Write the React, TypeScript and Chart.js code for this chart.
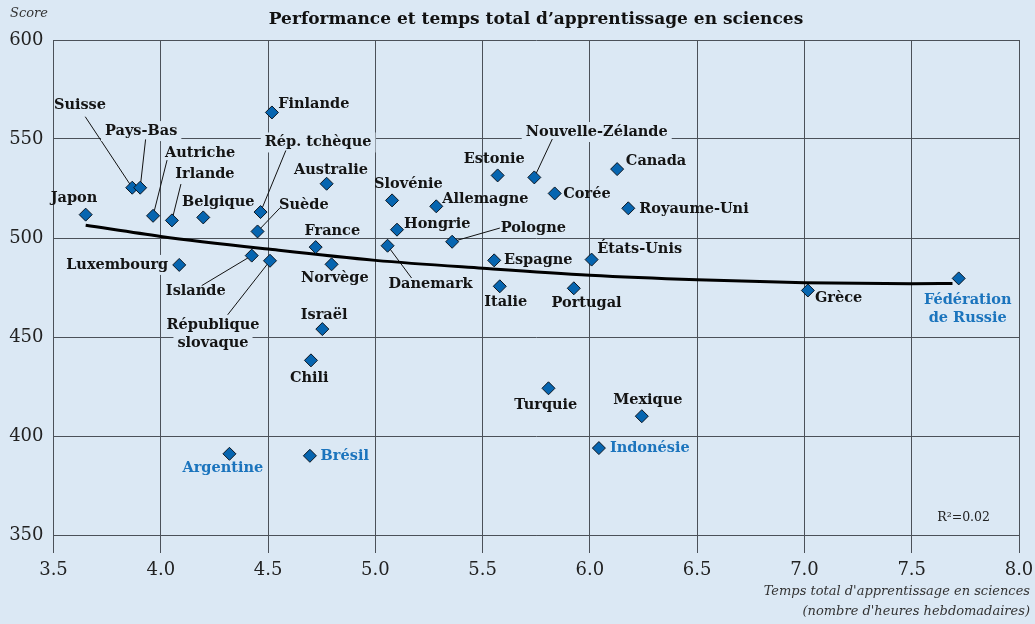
import React, { useEffect, useRef } from "react";
import { Chart, registerables } from "chart.js";

Chart.register(...registerables);

// ---------- data ----------
const countries = [
  "Japon", "Suisse", "Pays-Bas", "Autriche", "Irlande", "Belgique", "Luxembourg",
  "Islande", "République slovaque", "Suède", "Rép. tchèque", "Finlande", "Australie",
  "France", "Norvège", "Israël", "Chili", "Argentine", "Brésil", "Slovénie",
  "Allemagne", "Hongrie", "Danemark", "Pologne", "Estonie", "Nouvelle-Zélande",
  "Corée", "Canada", "Royaume-Uni", "Espagne", "États-Unis", "Italie", "Portugal",
  "Turquie", "Mexique", "Indonésie", "Grèce", "Fédération de Russie",
];
const hours = [
  3.65, 3.867, 3.904, 3.964, 4.052, 4.198, 4.086,
  4.424, 4.509, 4.451, 4.465, 4.518, 4.773,
  4.722, 4.796, 4.753, 4.70, 4.32, 4.695, 5.078,
  5.284, 5.101, 5.057, 5.358, 5.57, 5.741,
  5.836, 6.127, 6.179, 5.554, 6.008, 5.58, 5.925,
  5.807, 6.242, 6.042, 7.016, 7.719,
];
const scores = [
  511.8, 525.4, 525.4, 511.2, 508.9, 510.4, 486.4,
  491.1, 488.5, 503.3, 513.1, 563.4, 527.4,
  495.4, 486.7, 454.0, 438.2, 391.0, 390.0, 519.0,
  516.0, 504.2, 496.1, 498.1, 531.6, 530.6,
  522.5, 534.8, 515.0, 488.7, 489.1, 475.6, 474.6,
  424.1, 410.0, 393.9, 473.5, 479.6,
];
const highlighted = ["Argentine", "Brésil", "Indonésie", "Fédération de Russie"];

// trend curve
const trendX = [3.65, 4.0, 4.5, 5.0, 5.5, 6.0, 6.5, 7.0, 7.5, 7.69];
const trendY = [506.4, 500.8, 494.4, 488.7, 484.7, 481.2, 478.9, 477.4, 476.9, 477.0];

const xTicks = [3.5, 4.0, 4.5, 5.0, 5.5, 6.0, 6.5, 7.0, 7.5, 8.0];
const yTicks = [350, 400, 450, 500, 550, 600];

const title = "Performance et temps total d\u2019apprentissage en sciences";
const yTitle = "Score";
const xTitle = ["Temps total d'apprentissage en sciences", "(nombre d'heures hebdomadaires)"];
const r2Text = "R\u00B2=0.02";

// ---------- label placement (pixels relative to the point) ----------
type Place = { dx: number; dy: number; align: CanvasTextAlign; lines?: string[]; leader?: [number, number]; box?: boolean };
const placement: Record<string, Place> = {
  "Japon": { dx: -11.7, dy: -16, align: "center" },
  "Suisse": { dx: -52.3, dy: -82.3, align: "center", leader: [-47, -71] },
  "Pays-Bas": { dx: 1, dy: -56.6, align: "center", leader: [5.4, -48.3], box: true },
  "Autriche": { dx: 47, dy: -62.4, align: "center", leader: [14, -55.7], box: true },
  "Irlande": { dx: 33, dy: -46.3, align: "center", leader: [9, -36.3] },
  "Belgique": { dx: 15, dy: -15, align: "center" },
  "Luxembourg": { dx: -11, dy: 0, align: "right", box: true },
  "Islande": { dx: -56, dy: 35.7, align: "center", leader: [-50, 30] },
  "République slovaque": { dx: -57, dy: 64.7, align: "center", lines: ["République", "slovaque"], leader: [-42.3, 54], box: true },
  "Suède": { dx: 46.3, dy: -26.7, align: "center", leader: [22.3, -23.4] },
  "Rép. tchèque": { dx: 57.6, dy: -69.6, align: "center", leader: [25.3, -61.6], box: true },
  "Finlande": { dx: 6.3, dy: -8.7, align: "left" },
  "Australie": { dx: 4.3, dy: -13.3, align: "center" },
  "France": { dx: 16.6, dy: -15.6, align: "center" },
  "Norvège": { dx: 3.3, dy: 13.6, align: "center" },
  "Israël": { dx: 1.7, dy: -14.3, align: "center" },
  "Chili": { dx: -1.7, dy: 17.6, align: "center" },
  "Argentine": { dx: -6.6, dy: 14.7, align: "center" },
  "Brésil": { dx: 10.7, dy: 0.7, align: "left" },
  "Slovénie": { dx: 16.3, dy: -16.4, align: "center" },
  "Allemagne": { dx: 6, dy: -7.4, align: "left" },
  "Hongrie": { dx: 7, dy: -5.7, align: "left" },
  "Danemark": { dx: 43, dy: 38.3, align: "center", leader: [24, 32.3] },
  "Pologne": { dx: 48.5, dy: -13.7, align: "left", leader: [47.7, -13.7] },
  "Estonie": { dx: -3.4, dy: -16.4, align: "center" },
  "Nouvelle-Zélande": { dx: 62.4, dy: -45.4, align: "center", leader: [18, -38.4], box: true },
  "Corée": { dx: 8.6, dy: 0.3, align: "left" },
  "Canada": { dx: 8.7, dy: -7.6, align: "left" },
  "Royaume-Uni": { dx: 11, dy: 0.6, align: "left" },
  "Espagne": { dx: 9.7, dy: 0, align: "left" },
  "États-Unis": { dx: 5.6, dy: -10.7, align: "left" },
  "Italie": { dx: 6, dy: 15.6, align: "center" },
  "Portugal": { dx: 12.7, dy: 14.6, align: "center" },
  "Turquie": { dx: -2.7, dy: 17, align: "center" },
  "Mexique": { dx: 6, dy: -15.6, align: "center" },
  "Indonésie": { dx: 11, dy: 0, align: "left" },
  "Grèce": { dx: 7, dy: 7.6, align: "left" },
  "Fédération de Russie": { dx: 9, dy: 22, align: "center", lines: ["Fédération", "de Russie"] },
};

const BG = "#dbe8f4";
const FONT = "'DejaVu Serif', serif";
const LABEL_FONT = `bold 14.5px ${FONT}`;
const LINE_H = 18;

function labelLines(name: string) {
  const p = placement[name];
  return p && p.lines ? p.lines : [name];
}

const labelPlugin = {
  id: "countryLabels",
  beforeDatasetsDraw(chart: any) {
    const ctx = chart.ctx as CanvasRenderingContext2D;
    const meta = chart.getDatasetMeta(1);
    ctx.save();
    ctx.font = LABEL_FONT;
    meta.data.forEach((el: any, i: number) => {
      const name = countries[i];
      const p = placement[name];
      if (!p) return;
      const lines = labelLines(name);
      if (p.box) {
        lines.forEach((ln, k) => {
          const w = ctx.measureText(ln).width;
          const cx = el.x + p.dx;
          const cy = el.y + p.dy + k * LINE_H;
          let left = cx - w / 2;
          if (p.align === "left") left = cx;
          if (p.align === "right") left = cx - w;
          ctx.fillStyle = BG;
          ctx.fillRect(left - 4, cy - 10, w + 8, 20);
        });
      }
      if (p.leader) {
        ctx.strokeStyle = "#111";
        ctx.lineWidth = 1;
        ctx.beginPath();
        ctx.moveTo(el.x + p.leader[0], el.y + p.leader[1]);
        ctx.lineTo(el.x, el.y);
        ctx.stroke();
      }
    });
    ctx.restore();
  },
  afterDatasetsDraw(chart: any) {
    const ctx = chart.ctx as CanvasRenderingContext2D;
    const meta = chart.getDatasetMeta(1);
    ctx.save();
    ctx.font = LABEL_FONT;
    ctx.textBaseline = "middle";
    meta.data.forEach((el: any, i: number) => {
      const name = countries[i];
      const p = placement[name];
      if (!p) return;
      ctx.fillStyle = highlighted.includes(name) ? "#1b74bd" : "#141414";
      ctx.textAlign = p.align;
      labelLines(name).forEach((ln, k) => {
        ctx.fillText(ln, el.x + p.dx, el.y + p.dy + k * LINE_H);
      });
    });
    ctx.restore();
  },
  afterDraw(chart: any) {
    const ctx = chart.ctx as CanvasRenderingContext2D;
    const area = chart.chartArea;
    ctx.save();
    ctx.textBaseline = "middle";
    ctx.fillStyle = "#111";
    ctx.font = `bold 17px ${FONT}`;
    ctx.textAlign = "center";
    ctx.fillText(title, 536, 20);
    ctx.font = `italic 13px ${FONT}`;
    ctx.fillStyle = "#333";
    ctx.textAlign = "left";
    ctx.fillText(yTitle, 10, 14);
    ctx.textAlign = "right";
    ctx.font = `italic 13px ${FONT}`;
    ctx.fillText(xTitle[0], 1030, 592);
    ctx.fillText(xTitle[1], 1030, 612);
    ctx.font = `12.5px ${FONT}`;
    ctx.fillStyle = "#222";
    ctx.fillText(r2Text, area.right - 29, area.bottom - 17);
    ctx.restore();
  },
};

export default function App() {
  const ref = useRef<HTMLCanvasElement | null>(null);
  useEffect(() => {
    document.body.style.margin = "0";
    document.body.style.background = BG;
    if (!ref.current) return;
    const gridColor = "#4b5159";
    const chart = new Chart(ref.current, {
      type: "scatter",
      data: {
        datasets: [
          {
            type: "line",
            data: trendX.map((x, i) => ({ x, y: trendY[i] })),
            borderColor: "#000",
            borderWidth: 3,
            pointRadius: 0,
            tension: 0.4,
            cubicInterpolationMode: "monotone",
            order: 1,
          } as any,
          {
            data: hours.map((x, i) => ({ x, y: scores[i] })),
            pointStyle: "rectRot",
            pointRadius: 6.5,
            backgroundColor: "#0665b0",
            borderColor: "#0a1420",
            borderWidth: 1,
            order: 0,
          },
        ],
      },
      options: {
        responsive: false,
        animation: false,
        devicePixelRatio: 1,
        layout: { padding: { top: 40, right: 16, left: 0, bottom: 0 } },
        plugins: { legend: { display: false }, tooltip: { enabled: false } },
        scales: {
          x: {
            type: "linear",
            position: "bottom",
            min: xTicks[0],
            max: xTicks[xTicks.length - 1],
            afterBuildTicks: (s: any) => { s.ticks = xTicks.map((v) => ({ value: v })); },
            afterFit: (s: any) => { s.height = 89; s.paddingLeft = 0; s.paddingRight = 0; },
            ticks: {
              callback: (v: any) => Number(v).toFixed(1),
              font: { family: FONT, size: 18 },
              color: "#222",
              padding: 7,
              maxRotation: 0,
            },
            grid: { color: gridColor, lineWidth: 1, tickLength: 18, drawTicks: true, display: true },
            border: { display: true, color: gridColor },
          },
          y: {
            min: yTicks[0],
            max: yTicks[yTicks.length - 1],
            afterBuildTicks: (s: any) => { s.ticks = yTicks.map((v) => ({ value: v })); },
            afterFit: (s: any) => { s.width = 53.5; s.paddingTop = 0; s.paddingBottom = 0; },
            ticks: {
              font: { family: FONT, size: 18 },
              color: "#222",
              padding: 10,
            },
            grid: { color: gridColor, lineWidth: 1, drawTicks: false },
            border: { display: true, color: gridColor },
          },
        },
      },
      plugins: [labelPlugin],
    } as any);
    return () => chart.destroy();
  }, []);
  return (
    <div style={{ width: 1035, height: 624 }}>
      <canvas ref={ref} width={1035} height={624} />
    </div>
  );
}
